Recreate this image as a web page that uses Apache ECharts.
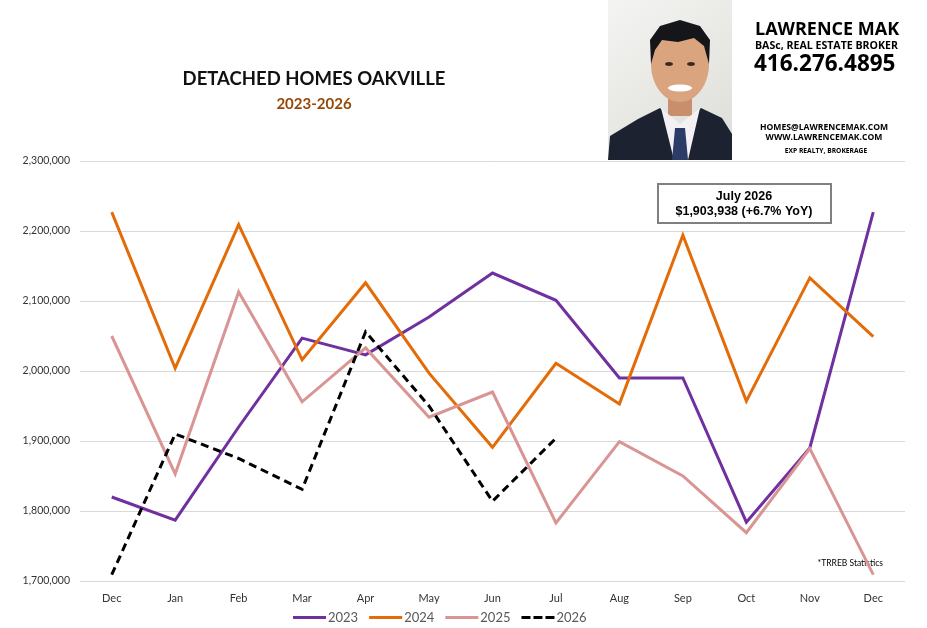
<!DOCTYPE html>
<html>
<head>
<meta charset="utf-8">
<script src="https://cdn.jsdelivr.net/npm/echarts@6/dist/echarts.min.js"></script>
<style>
  html, body { margin: 0; padding: 0; background: #fff; }
  #main { width: 927px; height: 628px; }
</style>
</head>
<body>
<div id="main"></div>
<script>
// months, starting with the previous December
var months = ['Dec', 'Jan', 'Feb', 'Mar', 'Apr', 'May', 'Jun', 'Jul', 'Aug', 'Sep', 'Oct', 'Nov', 'Dec'];

// average price, detached homes
var y2023 = [1820000, 1787000, 1920000, 2047000, 2023000, 2077000, 2140000, 2101000, 1990000, 1990000, 1784000, 1890000, 2227000];
var y2024 = [2227000, 2004000, 2209000, 2016000, 2126000, 1997000, 1891000, 2011000, 1953000, 2194000, 1957000, 2133000, 2049000];
var y2025 = [2050000, 1853000, 2113000, 1956000, 2033000, 1934000, 1970000, 1783000, 1899000, 1850000, 1769000, 1889000, 1709000];
var y2026 = [1709000, 1910000, 1875000, 1831000, 2056000, 1950000, 1814000, 1903938];

var seriesNames = ['2023', '2024', '2025', '2026'];
var seriesColors = ['#7030A0', '#E36C09', '#D99594', '#000000'];

var myChart = echarts.init(document.getElementById('main'));

var font = 'Lato';
var dashIcon = 'path://M0,0h9v3h-9z M12,0h9v3h-9z M24,0h9v3h-9z';

var option = {
    backgroundColor: '#ffffff',
    animation: false,
    title: [
        {
            text: 'DETACHED HOMES OAKVILLE',
            left: 309, top: 65, textAlign: 'center',
            textStyle: { fontFamily: font, fontSize: 18.5, fontWeight: 'bold', color: '#111' }
        },
        {
            text: '2023-2026',
            left: 309, top: 92, textAlign: 'center',
            textStyle: { fontFamily: font, fontSize: 15, fontWeight: 'bold', color: '#974806' }
        }
    ],
    legend: {
        top: 606,
        left: 288,
        itemWidth: 33,
        itemHeight: 3,
        itemGap: 11,
        textStyle: { fontFamily: font, fontSize: 13, color: '#595959', padding: [0, 0, 0, -3] },
        data: seriesNames.map(function (n, i) {
            return { name: n, icon: i === 3 ? dashIcon : 'rect' };
        })
    },
    grid: { left: 80, right: 22, top: 161, bottom: 47 },
    xAxis: {
        type: 'category',
        data: months,
        boundaryGap: true,
        axisLine: { show: false },
        axisTick: { show: false },
        axisLabel: { fontFamily: font, fontSize: 11, color: '#333', margin: 12 }
    },
    yAxis: {
        type: 'value',
        min: 1700000,
        max: 2300000,
        interval: 100000,
        axisLine: { show: false },
        axisTick: { show: false },
        splitLine: { lineStyle: { color: '#d9d9d9', width: 1 } },
        axisLabel: {
            fontFamily: font, fontSize: 10.5, color: '#333', margin: 10,
            formatter: function (v) { return v.toLocaleString('en-US'); }
        }
    },
    series: seriesNames.map(function (n, i) {
        var d = [y2023, y2024, y2025, y2026][i];
        return {
            name: n,
            type: 'line',
            data: d,
            symbol: 'none',
            color: seriesColors[i],
            lineStyle: {
                width: 3,
                color: seriesColors[i],
                type: i === 3 ? [8, 5] : 'solid',
                join: 'miter'
            },
            z: i === 3 ? 5 : 2
        };
    }),
    graphic: [
        // portrait placeholder
        {
            type: 'group', x: 608, y: 0,
            children: [
                { type: 'rect', shape: { x: 0, y: 0, width: 124, height: 160 },
                  style: { fill: new echarts.graphic.LinearGradient(0, 0, 1, 1, [
                      { offset: 0, color: '#f4f4f2' }, { offset: 1, color: '#dcdcd8' }]) } },
                { type: 'rect', shape: { x: 60, y: 92, width: 24, height: 24 }, style: { fill: '#c98f6c' } },
                { type: 'polygon', shape: { points: [[0, 160], [2, 136], [30, 119], [52, 108], [72, 128], [93, 108], [114, 118], [124, 134], [124, 160]] },
                  style: { fill: '#1c2230' } },
                { type: 'polygon', shape: { points: [[53, 108], [66, 160], [80, 160], [92, 108], [72, 124]] }, style: { fill: '#f3f1f4' } },
                { type: 'polygon', shape: { points: [[67, 128], [77, 128], [80, 160], [64, 160]] }, style: { fill: '#2d3c66' } },
                { type: 'ellipse', shape: { cx: 72, cy: 64, rx: 29, ry: 38 }, style: { fill: '#d9a47e' } },
                { type: 'polygon', shape: { points: [[43, 64], [42, 40], [52, 26], [72, 20], [92, 26], [102, 40], [101, 64], [96, 46], [86, 38], [70, 42], [54, 40], [47, 50]] },
                  style: { fill: '#14161a' } },
                { type: 'ellipse', shape: { cx: 72, cy: 88, rx: 12, ry: 3.5 }, style: { fill: '#ffffff' } },
                { type: 'ellipse', shape: { cx: 61, cy: 64, rx: 4, ry: 2 }, style: { fill: '#3a2a22' } },
                { type: 'ellipse', shape: { cx: 83, cy: 64, rx: 4, ry: 2 }, style: { fill: '#3a2a22' } }
            ]
        },
        // broker details
        { type: 'text', x: 755, y: 30, style: { text: 'LAWRENCE MAK', font: 'bold 18px "Open Sans"', fill: '#000', verticalAlign: 'middle' } },
        { type: 'text', x: 755, y: 46, style: { text: 'BASc, REAL ESTATE BROKER', font: 'bold 10.6px "Open Sans"', fill: '#000', verticalAlign: 'middle' } },
        { type: 'text', x: 754, y: 65, style: { text: '416.276.4895', font: 'bold 22.5px "Open Sans"', fill: '#000', verticalAlign: 'middle' } },
        { type: 'text', x: 824, y: 128, style: { text: 'HOMES@LAWRENCEMAK.COM', font: 'bold 8.6px "Open Sans"', fill: '#000', align: 'center', verticalAlign: 'middle' } },
        { type: 'text', x: 824, y: 138, style: { text: 'WWW.LAWRENCEMAK.COM', font: 'bold 8.6px "Open Sans"', fill: '#000', align: 'center', verticalAlign: 'middle' } },
        { type: 'text', x: 826, y: 151, style: { text: 'EXP REALTY, BROKERAGE', font: 'bold 6.7px "Open Sans"', fill: '#000', align: 'center', verticalAlign: 'middle' } },
        // July callout
        { type: 'rect', z: 10, shape: { x: 658, y: 184, width: 173, height: 39 },
          style: { fill: '#fff', stroke: '#808080', lineWidth: 2 } },
        { type: 'text', x: 744, y: 197, z: 11,
          style: { text: 'July 2026', font: 'bold 12.5px "Liberation Sans"', fill: '#000', align: 'center', verticalAlign: 'middle' } },
        { type: 'text', x: 744, y: 212, z: 11,
          style: { text: '$1,903,938 (+6.7% YoY)', font: 'bold 12.5px "Liberation Sans"', fill: '#000', align: 'center', verticalAlign: 'middle' } },
        // source note
        { type: 'text', x: 883, y: 563, style: { text: '*TRREB Statistics', font: '8.5px Lato', fill: '#000', align: 'right', verticalAlign: 'middle' } }
    ]
};

myChart.setOption(option);
</script>
</body>
</html>
